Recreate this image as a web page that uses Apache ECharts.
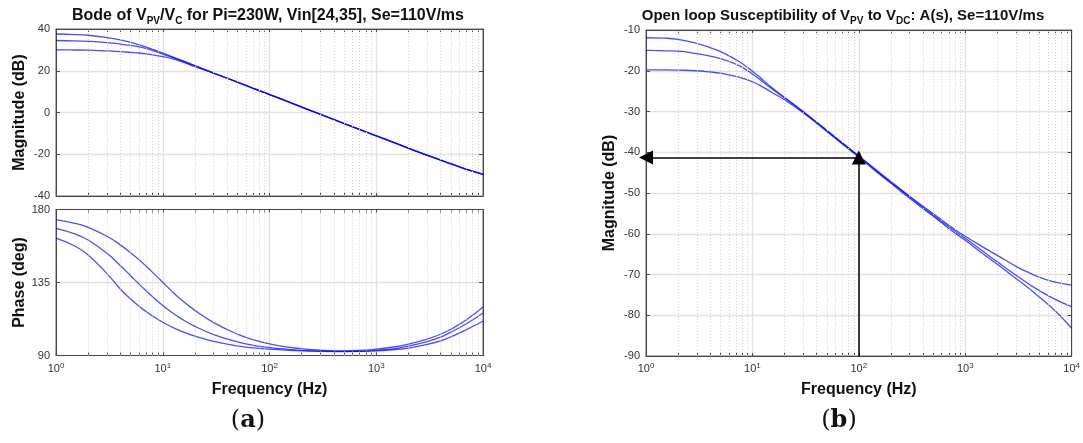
<!DOCTYPE html>
<html>
<head>
<meta charset="utf-8">
<script src="https://cdn.jsdelivr.net/npm/echarts@6/dist/echarts.min.js"></script>
<style>
  html, body { margin: 0; padding: 0; background: #fff; }
  #main { width: 1083px; height: 443px; }
</style>
</head>
<body>
<div id="main"></div>
<script>
// frequency points (Hz) shared by every curve
var freq = [1, 1.5, 2, 3, 4, 5, 6, 7, 8, 10, 12, 15, 20, 30, 50, 70, 100, 150, 200, 300, 500, 700, 1000, 1500, 2000, 3000, 4000, 5000, 7000, 10000];

// (a) Bode of Vpv/Vc, magnitude (dB), three input voltages
var magA = [37.6, 37.35, 37.0, 35.9, 34.8, 33.6, 32.4, 31.3, 30.3, 28.5, 26.9, 25.0, 22.5, 18.9, 14.6, 11.7, 8.7, 5.2, 2.7, -0.8, -5.2, -8.1, -11.1, -14.5, -17.0, -20.4, -22.7, -24.5, -27.1, -29.5];
var magB = [34.5, 34.35, 34.1, 33.5, 32.8, 32.1, 31.4, 30.6, 29.8, 28.0, 26.6, 24.8, 22.3, 18.85, 14.55, 11.6, 8.6, 5.1, 2.6, -0.9, -5.3, -8.2, -11.2, -14.6, -17.1, -20.5, -22.8, -24.6, -27.2, -29.6];
var magC = [30.0, 29.95, 29.9, 29.5, 29.2, 28.8, 28.5, 28.1, 27.6, 26.8, 25.9, 24.4, 22.0, 18.8, 14.5, 11.55, 8.55, 5.05, 2.55, -0.95, -5.35, -8.25, -11.25, -14.65, -17.15, -20.55, -22.85, -24.65, -27.25, -29.65];

// (a) phase (deg)
var phA = [173.6, 171.5, 169.0, 163.5, 158.2, 153.3, 149.0, 145.0, 141.4, 135.2, 130.0, 124.2, 117.8, 110.3, 103.2, 99.8, 97.2, 95.2, 94.2, 93.3, 92.8, 93.1, 93.9, 95.4, 97.0, 100.1, 103.1, 106.2, 112.0, 119.9];
var phB = [168.4, 165.0, 161.2, 153.0, 145.5, 139.2, 134.0, 129.8, 126.3, 120.8, 116.8, 112.6, 108.0, 102.9, 98.4, 96.3, 94.9, 93.8, 93.2, 92.7, 92.5, 92.6, 93.2, 94.3, 95.8, 98.6, 101.3, 104.4, 109.6, 116.2];
var phC = [162.3, 157.5, 152.0, 140.5, 131.0, 124.8, 120.3, 117.0, 114.4, 110.5, 107.8, 104.9, 101.9, 98.7, 95.9, 94.7, 93.9, 93.2, 92.85, 92.55, 92.4, 92.5, 92.9, 93.7, 94.6, 96.8, 99.0, 101.5, 106.0, 111.1];

// (b) open loop susceptibility A(s), magnitude (dB)
var susA = [-11.9, -12.0, -12.3, -13.3, -14.3, -15.3, -16.3, -17.3, -18.2, -20.1, -21.8, -24.0, -26.5, -30.0, -34.6, -37.7, -40.9, -44.6, -47.2, -50.8, -55.1, -57.9, -60.6, -63.4, -65.3, -68.0, -69.6, -70.7, -71.9, -72.6];
var susB = [-15.0, -15.1, -15.2, -15.8, -16.4, -17.0, -17.7, -18.4, -19.1, -20.8, -22.3, -24.3, -26.7, -30.1, -34.7, -37.8, -41.0, -44.8, -47.4, -51.0, -55.4, -58.3, -61.1, -64.5, -66.9, -70.2, -72.4, -74.0, -76.1, -77.9];
var susC = [-19.8, -19.8, -19.85, -20.0, -20.3, -20.6, -21.0, -21.4, -21.8, -22.7, -23.7, -25.2, -27.1, -30.3, -34.9, -38.0, -41.2, -45.0, -47.6, -51.3, -55.7, -58.7, -61.6, -65.1, -67.5, -71.0, -73.5, -75.6, -78.9, -83.2];

// axis ticks
var decades = [1, 10, 100, 1000, 10000];
var minorTicks = [2, 3, 4, 5, 6, 7, 8, 9, 20, 30, 40, 50, 60, 70, 80, 90, 200, 300, 400, 500, 600, 700, 800, 900, 2000, 3000, 4000, 5000, 6000, 7000, 8000, 9000];
var allTicks = decades.concat(minorTicks);

// arrow marking A(s) at 100 Hz
var markFreq = 100;
var markDb = -41.3;

var font = "'Liberation Sans', Arial, sans-serif";
var boxColor = '#4a4a4a';
var lineColor = 'rgba(0, 0, 255, 0.7)';

var myChart = echarts.init(document.getElementById('main'));

// main x axis: labels, decade grid lines
function xAxisMain(g, labels) {
  return {
    type: 'log', logBase: 10, gridIndex: g, min: 1, max: 10000, position: 'bottom',
    axisLine: { onZero: false, lineStyle: { color: boxColor } },
    axisTick: { show: false },
    axisLabel: labels ? {
      margin: 6,
      formatter: function (v) { return '{b|10}{s|' + Math.round(Math.log10(v)) + '}'; },
      rich: {
        b: { fontSize: 11, color: '#333', fontFamily: font, lineHeight: 14 },
        s: { fontSize: 8, color: '#333', fontFamily: font, lineHeight: 8, verticalAlign: 'top' }
      }
    } : { show: false },
    splitLine: { show: true, lineStyle: { color: '#e2e2e2', width: 1.3 } },
    name: labels ? 'Frequency (Hz)' : '',
    nameLocation: 'middle', nameGap: 26, nameMoveOverlap: false,
    nameTextStyle: { fontSize: 16, fontWeight: 'bold', color: '#111', fontFamily: font }
  };
}

// tick-only x axes (bottom and top edge of the box)
function xAxisTicks(g, pos) {
  return {
    type: 'log', logBase: 10, gridIndex: g, min: 1, max: 10000, position: pos,
    axisLine: { show: pos === 'top', onZero: false, lineStyle: { color: boxColor } },
    axisTick: { inside: true, length: 3, customValues: allTicks, lineStyle: { color: boxColor } },
    axisLabel: { show: false },
    splitLine: { show: false }
  };
}

function yAxisLeft(g, min, max, step, name, gap) {
  return {
    type: 'value', gridIndex: g, min: min, max: max, interval: step, position: 'left',
    axisLine: { show: true, onZero: false, lineStyle: { color: boxColor } },
    axisTick: { show: true, inside: true, length: 4, lineStyle: { color: boxColor } },
    axisLabel: { fontSize: 11, color: '#333', fontFamily: font, margin: 6 },
    splitLine: { show: true, lineStyle: { color: '#e2e2e2', width: 1.3 } },
    name: name, nameLocation: 'middle', nameGap: gap, nameMoveOverlap: false,
    nameTextStyle: { fontSize: 16, fontWeight: 'bold', color: '#111', fontFamily: font }
  };
}

function yAxisRight(g, min, max, step) {
  return {
    type: 'value', gridIndex: g, min: min, max: max, interval: step, position: 'right',
    axisLine: { show: true, onZero: false, lineStyle: { color: boxColor } },
    axisTick: { show: true, inside: true, length: 4, lineStyle: { color: boxColor } },
    axisLabel: { show: false },
    splitLine: { show: false }
  };
}

function curve(values, g) {
  return {
    type: 'line', xAxisIndex: g, yAxisIndex: g,
    data: freq.map(function (f, i) { return [f, values[i]]; }),
    showSymbol: false, smooth: 0.45, silent: true, animation: false, z: 3,
    lineStyle: { color: lineColor, width: 1.3 }, itemStyle: { color: lineColor }
  };
}

function minorGrid(g) {
  return {
    type: 'line', xAxisIndex: g, yAxisIndex: g, data: [], silent: true, animation: false, z: 1,
    markLine: {
      silent: true, animation: false, symbol: 'none', label: { show: false },
      lineStyle: { color: '#d2d2d2', type: [1, 2], width: 1 },
      data: minorTicks.map(function (v) { return { xAxis: v }; })
    }
  };
}

var option = {
  textStyle: { fontFamily: font },
  animation: false,
  grid: [
    { left: 56, top: 29, width: 427, height: 167, show: true, borderColor: boxColor, borderWidth: 1 },
    { left: 56, top: 209.5, width: 427, height: 146, show: true, borderColor: boxColor, borderWidth: 1 },
    { left: 646, top: 30, width: 427, height: 326, show: true, borderColor: boxColor, borderWidth: 1 }
  ],
  xAxis: [xAxisMain(0, false), xAxisMain(1, true), xAxisMain(2, true),
          xAxisTicks(0, 'top'), xAxisTicks(1, 'top'), xAxisTicks(2, 'top'),
          xAxisTicks(0, 'bottom'), xAxisTicks(1, 'bottom'), xAxisTicks(2, 'bottom')],
  yAxis: [yAxisLeft(0, -40, 40, 20, 'Magnitude (dB)', 28),
          yAxisLeft(1, 90, 180, 45, 'Phase (deg)', 28),
          yAxisLeft(2, -90, -10, 10, 'Magnitude (dB)', 28),
          yAxisRight(0, -40, 40, 20), yAxisRight(1, 90, 180, 45), yAxisRight(2, -90, -10, 10)],
  series: [
    minorGrid(0), minorGrid(1), minorGrid(2),
    curve(magA, 0), curve(magB, 0), curve(magC, 0),
    curve(phA, 1), curve(phB, 1), curve(phC, 1),
    curve(susA, 2), curve(susB, 2), curve(susC, 2),
    {
      type: 'line', xAxisIndex: 2, yAxisIndex: 2, data: [], silent: true, animation: false, z: 5,
      markLine: {
        silent: true, animation: false, symbol: ['none', 'triangle'], symbolSize: 14,
        label: { show: false },
        lineStyle: { color: '#000', width: 1.5, type: 'solid' },
        data: [
          [{ coord: [markFreq, markDb] }, { coord: [1, markDb] }],
          [{ coord: [markFreq, -90] }, { coord: [markFreq, markDb] }]
        ]
      }
    }
  ],
  graphic: [
    {
      type: 'text', x: 268, y: 16,
      style: {
        text: '{t|Bode of V}{s|PV}{t|/V}{s|C}{t| for Pi=230W, Vin[24,35], Se=110V/ms}',
        align: 'center', verticalAlign: 'middle', textAlign: 'center', textVerticalAlign: 'middle',
        rich: {
          t: { fontSize: 16, fontWeight: 'bold', fontFamily: font, fill: '#111', lineHeight: 20 },
          s: { fontSize: 10, fontWeight: 'bold', fontFamily: font, fill: '#111', lineHeight: 14, verticalAlign: 'bottom' }
        }
      }
    },
    {
      type: 'text', x: 843, y: 16,
      style: {
        text: '{t|Open loop Susceptibility of V}{s|PV}{t| to V}{s|DC}{t|: A(s), Se=110V/ms}',
        align: 'center', verticalAlign: 'middle', textAlign: 'center', textVerticalAlign: 'middle',
        rich: {
          t: { fontSize: 15, fontWeight: 'bold', fontFamily: font, fill: '#111', lineHeight: 20 },
          s: { fontSize: 10, fontWeight: 'bold', fontFamily: font, fill: '#111', lineHeight: 14, verticalAlign: 'bottom' }
        }
      }
    },
    {
      type: 'text', x: 248, y: 421,
      style: {
        text: '{p|(}{l|a}{p|)}',
        align: 'center', verticalAlign: 'middle', textAlign: 'center', textVerticalAlign: 'middle',
        rich: {
          p: { fontSize: 24, fontFamily: "'DejaVu Serif', serif", fill: '#111' },
          l: { fontSize: 24, fontWeight: 'bold', fontFamily: "'DejaVu Serif', serif", fill: '#111' }
        }
      }
    },
    {
      type: 'text', x: 839, y: 421,
      style: {
        text: '{p|(}{l|b}{p|)}',
        align: 'center', verticalAlign: 'middle', textAlign: 'center', textVerticalAlign: 'middle',
        rich: {
          p: { fontSize: 24, fontFamily: "'DejaVu Serif', serif", fill: '#111' },
          l: { fontSize: 24, fontWeight: 'bold', fontFamily: "'DejaVu Serif', serif", fill: '#111' }
        }
      }
    }
  ]
};

myChart.setOption(option);
</script>
</body>
</html>
